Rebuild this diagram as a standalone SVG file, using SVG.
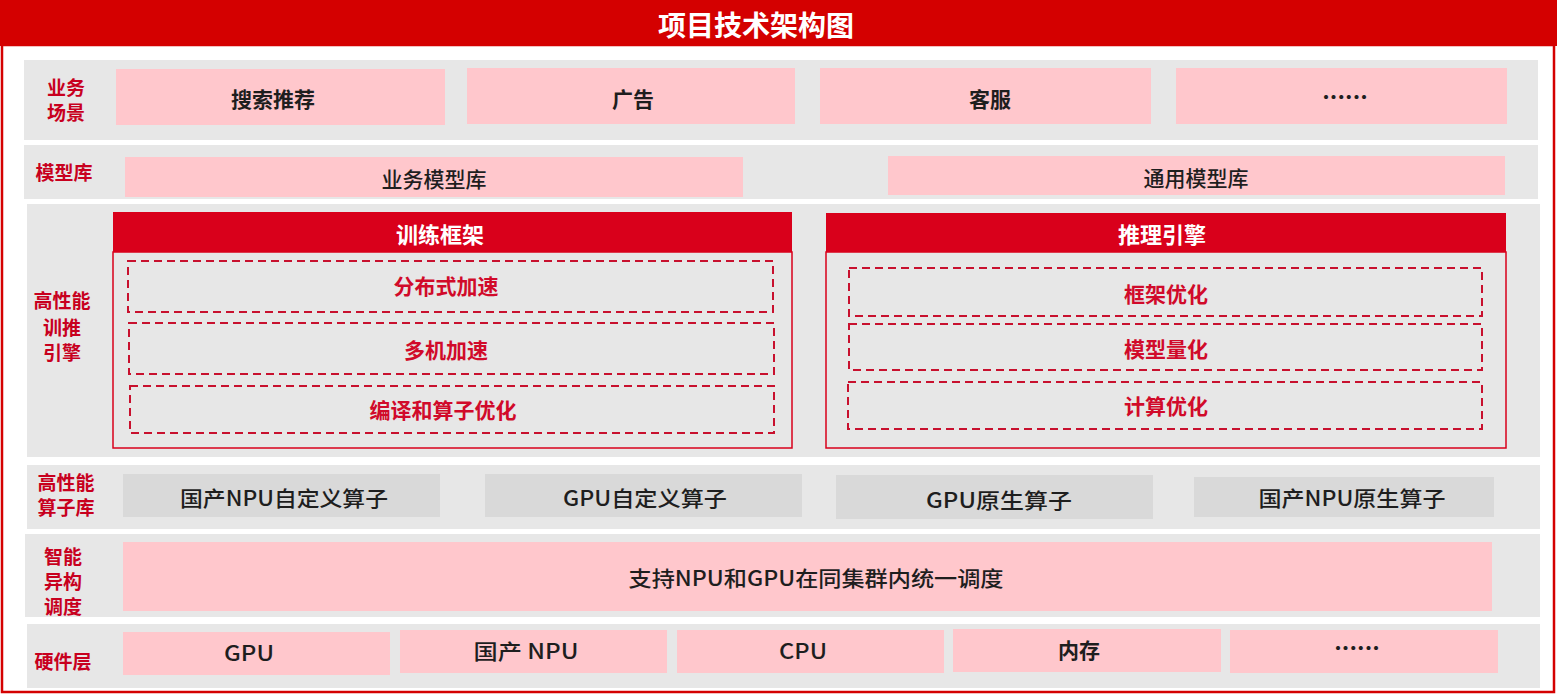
<svg xmlns="http://www.w3.org/2000/svg" width="1557" height="695" viewBox="0 0 1557 695">
<style>
text{font-family:"Noto Sans CJK SC","Noto Sans",sans-serif;dominant-baseline:central;text-anchor:middle}
.row{fill:#E7E7E7}
.pink{fill:#FFC7CC}
.op{fill:#D9D9D9}
.lbl{fill:#C8001E;font-size:19px;font-weight:700}
.bt{fill:#1E1E1E;font-size:21px;font-weight:700}
.bn{fill:#1E1E1E;font-size:21px;font-weight:500}
.dots{fill:#1E1E1E;font-size:16px;font-weight:700}
.hd{fill:#D9001B}
.ht{fill:#FFFFFF;font-size:22px;font-weight:700}
.dash{fill:none;stroke:#C8102E;stroke-width:2;stroke-dasharray:8 5}
.dt{fill:#D10A2A;font-size:21px;font-weight:700}
.frame{fill:none;stroke:#D9001B;stroke-width:1.5}
</style>
<rect x="0" y="0" width="1557" height="695" fill="#FFFFFF"/>
<g id="title">
<rect x="0" y="0" width="1557" height="46" fill="#D40000"/>
<text x="756" y="24" style="fill:#FFFFFF;font-size:28px;font-weight:700">项目技术架构图</text>
</g>
<rect x="2" y="45" width="1552" height="647" fill="none" stroke="#D40000" stroke-width="2.5"/>

<g id="row-business">
<rect class="row" x="24" y="60" width="1514" height="80"/>
<text class="lbl" x="66" y="86">业务</text>
<text class="lbl" x="66" y="111">场景</text>
</g>
<g id="n-search"><rect class="pink" x="116" y="69" width="329" height="56"/><text class="bt" x="273" y="98">搜索推荐</text></g>
<g id="n-ad"><rect class="pink" x="467" y="68" width="328" height="56"/><text class="bt" x="633" y="98">广告</text></g>
<g id="n-cs"><rect class="pink" x="820" y="68" width="331" height="56"/><text class="bt" x="990" y="98">客服</text></g>
<g id="n-more1"><rect class="pink" x="1176" y="68" width="331" height="56"/><text class="dots" x="1345" y="96" textLength="54" lengthAdjust="spacing">······</text></g>

<g id="row-models">
<rect class="row" x="24" y="145" width="1514" height="54"/>
<text class="lbl" x="64" y="171">模型库</text>
</g>
<g id="n-bizmodel"><rect class="pink" x="125" y="157" width="618" height="40"/><text class="bn" x="434" y="178">业务模型库</text></g>
<g id="n-genmodel"><rect class="pink" x="888" y="156" width="617" height="39"/><text class="bn" x="1196" y="177">通用模型库</text></g>

<g id="row-engine">
<rect class="row" x="27" y="204" width="1513" height="253"/>
<text class="lbl" x="62" y="299">高性能</text>
<text class="lbl" x="62" y="326">训推</text>
<text class="lbl" x="62" y="351">引擎</text>
</g>
<g id="n-train">
<rect x="113" y="252" width="679" height="196" fill="#E7E7E7" class="frame"/>
<rect class="hd" x="113" y="212" width="679" height="40"/>
<text class="ht" x="440" y="233">训练框架</text>
</g>
<g id="n-dist"><rect class="dash" x="128" y="261" width="645" height="51"/><text class="dt" x="446" y="285">分布式加速</text></g>
<g id="n-multi"><rect class="dash" x="129" y="323" width="645" height="51"/><text class="dt" x="446" y="349">多机加速</text></g>
<g id="n-compile"><rect class="dash" x="130" y="386" width="644" height="47"/><text class="dt" x="443" y="409">编译和算子优化</text></g>

<g id="n-infer">
<rect x="826" y="252" width="680" height="196" fill="#E7E7E7" class="frame"/>
<rect class="hd" x="826" y="213" width="680" height="39"/>
<text class="ht" x="1162" y="233">推理引擎</text>
</g>
<g id="n-frameopt"><rect class="dash" x="849" y="268" width="633" height="48"/><text class="dt" x="1166" y="293">框架优化</text></g>
<g id="n-quant"><rect class="dash" x="849" y="324" width="633" height="46"/><text class="dt" x="1166" y="348">模型量化</text></g>
<g id="n-compute"><rect class="dash" x="848" y="382" width="634" height="47"/><text class="dt" x="1166" y="405">计算优化</text></g>

<g id="row-ops">
<rect class="row" x="27" y="465" width="1513" height="64"/>
<text class="lbl" x="66" y="481">高性能</text>
<text class="lbl" x="66" y="506">算子库</text>
</g>
<g id="n-op1"><rect class="op" x="123" y="474" width="317" height="43"/><text class="bn" x="284" y="497" textLength="208" lengthAdjust="spacingAndGlyphs">国产NPU自定义算子</text></g>
<g id="n-op2"><rect class="op" x="485" y="474" width="317" height="43"/><text class="bn" x="645" y="497" textLength="164" lengthAdjust="spacingAndGlyphs">GPU自定义算子</text></g>
<g id="n-op3"><rect class="op" x="836" y="475" width="317" height="44"/><text class="bn" x="999" y="499" textLength="146" lengthAdjust="spacingAndGlyphs">GPU原生算子</text></g>
<g id="n-op4"><rect class="op" x="1194" y="477" width="300" height="40"/><text class="bn" x="1352" y="497" textLength="187" lengthAdjust="spacingAndGlyphs">国产NPU原生算子</text></g>

<g id="row-sched">
<rect class="row" x="25" y="534" width="1515" height="83"/>
<text class="lbl" x="63" y="555">智能</text>
<text class="lbl" x="63" y="580">异构</text>
<text class="lbl" x="63" y="605">调度</text>
</g>
<g id="n-sched"><rect class="pink" x="123" y="542" width="1369" height="69"/><text class="bn" x="816" y="577" textLength="375" lengthAdjust="spacingAndGlyphs">支持NPU和GPU在同集群内统一调度</text></g>

<g id="row-hw">
<rect class="row" x="27" y="624" width="1513" height="64"/>
<text class="lbl" x="63" y="660">硬件层</text>
</g>
<g id="n-gpu"><rect class="pink" x="123" y="632" width="267" height="43"/><text class="bn" x="249" y="652" textLength="50" lengthAdjust="spacingAndGlyphs">GPU</text></g>
<g id="n-npu"><rect class="pink" x="400" y="630" width="267" height="43"/><text class="bn" x="526" y="650" textLength="105" lengthAdjust="spacingAndGlyphs">国产 NPU</text></g>
<g id="n-cpu"><rect class="pink" x="677" y="630" width="267" height="43"/><text class="bn" x="803" y="650" textLength="48" lengthAdjust="spacingAndGlyphs">CPU</text></g>
<g id="n-mem"><rect class="pink" x="953" y="629" width="268" height="43"/><text class="bt" x="1079" y="649">内存</text></g>
<g id="n-more2"><rect class="pink" x="1230" y="630" width="268" height="43"/><text class="dots" x="1357" y="647" textLength="54" lengthAdjust="spacing">······</text></g>

<g id="connectors"/>
</svg>
